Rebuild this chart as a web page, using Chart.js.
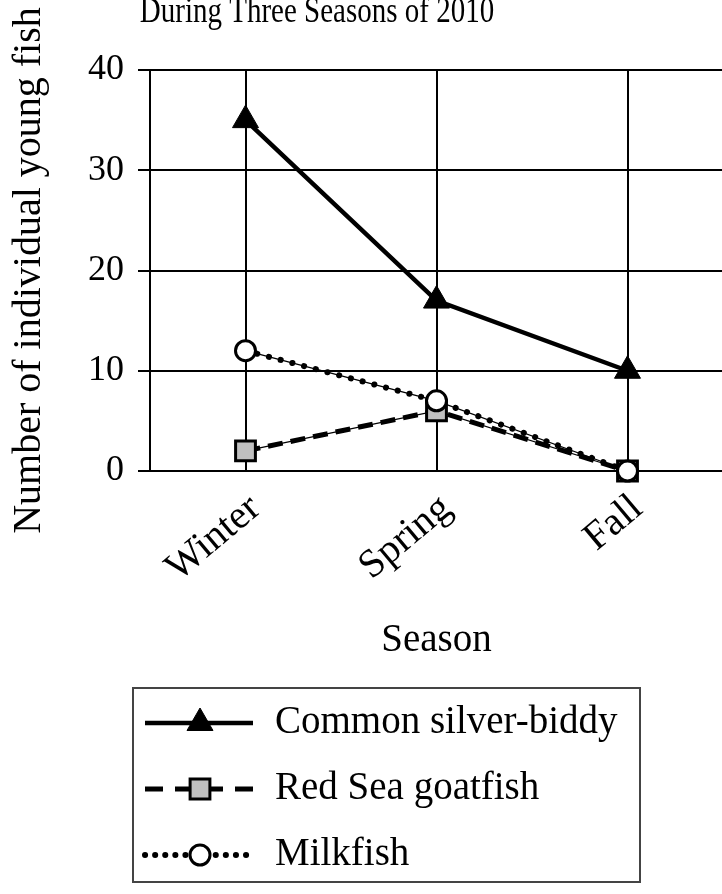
<!DOCTYPE html>
<html>
<head>
<meta charset="utf-8">
<script src="https://cdn.jsdelivr.net/npm/chart.js@4.4.0/dist/chart.umd.min.js"></script>
<style>
    html, body { margin: 0; padding: 0; background: #fff; overflow: hidden; }
    #wrap { width: 722px; height: 894px; overflow: hidden; }
    canvas { display: block; }
</style>
</head>
<body>
<div id="wrap"><canvas id="myChart" width="740" height="894"></canvas></div>
<script>
const seasons = ['Winter', 'Spring', 'Fall']
const silverBiddy = [35, 17, 10]
const goatfish = [2, 6, 0]
const milkfish = [12, 7, 0]
const yTicks = [0, 10, 20, 30, 40]
const chartTitle = 'During Three Seasons of 2010'
const yLabel = 'Number of individual young fish'
const xLabel = 'Season'

const serif = '"Liberation Serif", "Times New Roman", Times, serif'

// title sits left of the plot centre and is cut at the top in the original
const titlePlugin = {
    id: 'topTitle',
    afterDraw: (chart) => {
        const ctx = chart.ctx
        ctx.save()
        ctx.font = '29px ' + serif
        ctx.fillStyle = '#000'
        ctx.textAlign = 'center'
        ctx.textBaseline = 'alphabetic'
        // letters in the scan are a little taller than wide
        ctx.translate(317, 22)
        ctx.scale(1, 1.22)
        ctx.fillText(chartTitle, 0, 0)
        ctx.restore()
    }
}

// boxed legend with a line sample and marker for each series
const legendPlugin = {
    id: 'boxLegend',
    afterDraw: (chart) => {
        const ctx = chart.ctx
        ctx.save()
        ctx.lineWidth = 2
        ctx.strokeStyle = '#444'
        ctx.strokeRect(133, 688, 507, 194)
        const items = chart.data.datasets.filter((ds) => ds.inLegend)
        items.forEach((ds, i) => {
            const y = 723 + i * 66
            ctx.save()
            ctx.strokeStyle = ds.borderColor
            ctx.lineWidth = ds.borderWidth
            ctx.lineCap = ds.borderCapStyle || 'butt'
            ctx.setLineDash(ds.legendDash || [])
            ctx.beginPath()
            ctx.moveTo(145, y)
            ctx.lineTo(253, y)
            ctx.stroke()
            ctx.restore()

            ctx.save()
            ctx.fillStyle = ds.pointBackgroundColor
            ctx.strokeStyle = ds.pointBorderColor
            ctx.lineWidth = ds.pointBorderWidth
            Chart.helpers.drawPoint(ctx, {
                pointStyle: ds.pointStyle,
                radius: ds.pointRadius,
                borderWidth: ds.pointBorderWidth,
                rotation: 0
            }, 200, y)
            ctx.restore()

            ctx.fillStyle = '#000'
            ctx.font = '39px ' + serif
            ctx.textAlign = 'left'
            ctx.textBaseline = 'middle'
            ctx.fillText(ds.label, 275, y)
        })
        ctx.restore()
    }
}

const ctx = document.getElementById('myChart').getContext('2d')
const myChart = new Chart(ctx, {
    type: 'line',
    data: {
        labels: seasons,
        datasets: [
            {
                label: 'Common silver-biddy',
                data: silverBiddy,
                inLegend: true,
                order: 0,
                borderColor: '#000',
                borderWidth: 4.5,
                pointStyle: 'triangle',
                pointRadius: 15,
                pointBackgroundColor: '#000',
                pointBorderColor: '#000',
                pointBorderWidth: 1,
                legendDash: []
            },
            {
                label: 'Red Sea goatfish',
                data: goatfish,
                inLegend: true,
                order: 2,
                borderColor: '#000',
                borderWidth: 5,
                borderDash: [15, 8],
                pointStyle: 'rect',
                pointRadius: 14,
                pointBackgroundColor: '#c0c0c0',
                pointBorderColor: '#000',
                pointBorderWidth: 3,
                legendDash: [18, 12]
            },
            {
                label: 'Milkfish',
                data: milkfish,
                inLegend: true,
                order: 1,
                borderColor: '#000',
                borderWidth: 6,
                borderDash: [0.1, 12],
                borderCapStyle: 'round',
                pointStyle: 'circle',
                pointRadius: 10,
                pointBackgroundColor: '#fff',
                pointBorderColor: '#000',
                pointBorderWidth: 3,
                legendDash: [0.1, 10]
            },
            {
                label: 'goatfish thin',
                data: goatfish,
                order: 4,
                borderColor: '#000',
                borderWidth: 1.2,
                pointRadius: 0
            },
            {
                label: 'milkfish thin',
                data: milkfish,
                order: 3,
                borderColor: '#000',
                borderWidth: 1.2,
                pointRadius: 0
            }
        ]
    },
    options: {
        responsive: false,
        animation: false,
        devicePixelRatio: 1,
        clip: false,
        layout: {
            padding: { left: 0, right: 17, top: 70, bottom: 223 }
        },
        elements: {
            line: { tension: 0 }
        },
        plugins: {
            legend: { display: false },
            tooltip: { enabled: false }
        },
        scales: {
            x: {
                offset: true,
                grid: { color: '#000', lineWidth: 2, drawTicks: false, offset: false },
                border: { color: '#000', width: 2 },
                ticks: {
                    color: '#000',
                    font: { family: serif, size: 40 },
                    autoSkip: false,
                    minRotation: 40,
                    maxRotation: 40,
                    padding: 14,
                    labelOffset: 10
                },
                title: {
                    display: true,
                    text: xLabel,
                    color: '#000',
                    font: { family: serif, size: 39 },
                    padding: { top: 0, bottom: 7 }
                },
                afterFit: (scale) => { scale.height = 200 }
            },
            y: {
                min: yTicks[0],
                max: yTicks[yTicks.length - 1],
                grid: { color: '#000', lineWidth: 2, tickLength: 12 },
                border: { color: '#000', width: 2 },
                ticks: {
                    color: '#000',
                    font: { family: serif, size: 36 },
                    padding: 14
                },
                afterBuildTicks: (scale) => {
                    scale.ticks = yTicks.map((v) => ({ value: v }))
                },
                title: {
                    display: true,
                    text: yLabel,
                    color: '#000',
                    font: { family: serif, size: 40 },
                    padding: { top: 5, bottom: 0 }
                },
                afterFit: (scale) => { scale.width = 150 }
            }
        }
    },
    plugins: [titlePlugin, legendPlugin]
})
</script>
</body>
</html>
